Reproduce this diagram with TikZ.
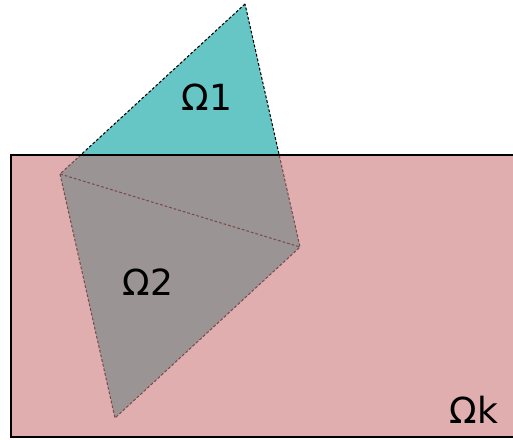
\documentclass[tikz,border=0pt]{standalone}
\usepackage{fontspec}
\setsansfont{DejaVu Sans}
\definecolor{domainpink}{HTML}{E0AEAE}
\definecolor{overlap}{HTML}{9A9594}
\definecolor{subfill}{HTML}{66C6C6}
\definecolor{seam}{HTML}{7A4A4E}
\tikzset{
  edge/.style={line width=0.6pt,dash pattern=on 1.6pt off 1.1pt},
  label/.style={font=\sffamily\fontsize{20.5}{24}\selectfont,text=black,inner sep=0pt},
}

\begin{document}
\begin{tikzpicture}[x=0.02cm,y=-0.02cm]
  \useasboundingbox (0,0) rectangle (513,439);
  \clip (0,0) rectangle (513,439);

  % vertices of the two triangles
  \coordinate (top) at (245,4);
  \coordinate (left) at (60,174);
  \coordinate (right) at (300,247);
  \coordinate (bottom) at (115,418);

  % part of the first triangle that lies outside the big domain
  \fill[subfill] (top) -- (left) -- (right) -- cycle;
  \draw[edge,black] (top) -- (left) -- (right) -- cycle;

  % big domain
  \fill[domainpink] (11,155) rectangle (530,437);
  \begin{scope}
    \clip (11,155) rectangle (530,437);
    \fill[overlap] (top) -- (left) -- (right) -- cycle;
    \fill[overlap] (left) -- (right) -- (bottom) -- cycle;
    \draw[edge,seam] (top) -- (left) -- (right) -- cycle;
    \draw[edge,seam] (left) -- (bottom) -- (right);
  \end{scope}
  \draw[line width=1.1pt] (11,155) rectangle (530,437);

  \node[label] (om1) at (207,97) {Ω1};
  \node[label] (om2) at (148,282) {Ω2};
  \node[label] (omk) at (474,410) {Ωk};
\end{tikzpicture}
\end{document}
